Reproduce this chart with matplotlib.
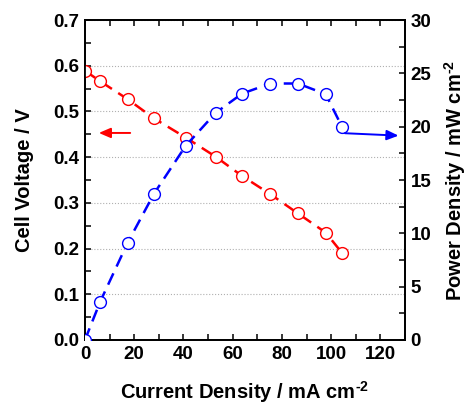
import matplotlib.pyplot as plt
from matplotlib.ticker import MultipleLocator

plt.rcParams['font.family'] = ['Liberation Sans', 'DejaVu Sans']
plt.rcParams['font.weight'] = 'bold'
plt.rcParams['mathtext.fontset'] = 'custom'
plt.rcParams['mathtext.bf'] = 'Liberation Sans:bold'
plt.rcParams['mathtext.rm'] = 'Liberation Sans:bold'

# current density, mA cm-2
current = [0, 6.2, 17.3, 28.0, 40.9, 53.1, 63.8, 75.3, 86.5, 97.8, 104.5]
# cell voltage, V
voltage = [0.589, 0.566, 0.527, 0.485, 0.443, 0.401, 0.359, 0.319, 0.277, 0.235, 0.190]
# power density, mW cm-2
power = [0.0, 3.6, 9.1, 13.7, 18.2, 21.3, 23.1, 24.05, 24.05, 23.05, 19.95]

fig = plt.figure(figsize=(4.72, 4.05), dpi=100)
ax = fig.add_axes([0.18, 0.1605, 0.678, 0.790])
ax2 = ax.twinx()

ax.plot(current, voltage, color='red', linestyle=(0, (5, 3)), linewidth=1.8,
        marker='o', markersize=8.5, markerfacecolor='white',
        markeredgecolor='red', markeredgewidth=1.0, zorder=3)
ax2.plot(current, power, color='blue', linestyle=(0, (5, 3)), linewidth=1.8,
         marker='o', markersize=8.5, markerfacecolor='white',
         markeredgecolor='blue', markeredgewidth=1.0, zorder=3)

ax.set_xlim(0, 130)
ax.set_ylim(0, 0.7)
ax2.set_ylim(0, 30)

ax.xaxis.set_major_locator(MultipleLocator(20))
ax.xaxis.set_minor_locator(MultipleLocator(10))
ax.yaxis.set_major_locator(MultipleLocator(0.1))
ax.yaxis.set_minor_locator(MultipleLocator(0.05))
ax2.yaxis.set_major_locator(MultipleLocator(5))
ax2.yaxis.set_minor_locator(MultipleLocator(2.5))

ax.yaxis.grid(True, linestyle=':', color='#b0b0b0', linewidth=0.8)

for a in (ax, ax2):
    for s in a.spines.values():
        s.set_linewidth(1.3)
ax.tick_params(which='both', direction='in', top=True, length=4, width=1.1,
               labelsize=13.5, pad=4)
ax2.tick_params(which='both', direction='in', length=4, width=1.1,
                labelsize=13.5, pad=4)
ax.set_yticklabels(['%.1f' % v for v in ax.get_yticks()])

ax.set_xlabel('Current Density / mA cm$^{\\text{-2}}$', fontsize=14.5,
              fontweight='bold', labelpad=12)
ax.set_ylabel('Cell Voltage / V', fontsize=14.5, fontweight='bold', labelpad=14)
ax2.set_ylabel('Power Density / mW cm$^{\\text{-2}}$', fontsize=14.5,
               fontweight='bold', labelpad=8)

ax.annotate('', xy=(4.5, 0.453), xytext=(19.5, 0.453),
            arrowprops=dict(arrowstyle='-|>,head_length=0.7,head_width=0.3',
                            color='red', lw=1.4))
ax2.annotate('', xy=(128.5, 19.15), xytext=(104.5, 19.4),
             arrowprops=dict(arrowstyle='-|>,head_length=0.7,head_width=0.3',
                             color='blue', lw=1.4))

fig.savefig('out.png', dpi=100)
